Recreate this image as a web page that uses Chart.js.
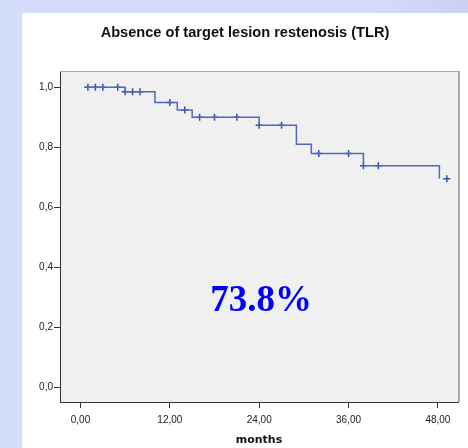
<!DOCTYPE html>
<html>
<head>
<meta charset="utf-8">
<script src="https://cdn.jsdelivr.net/npm/chart.js@4.4.0/dist/chart.umd.min.js"></script>
<style>
  html, body { margin: 0; padding: 0; }
  body {
    width: 468px; height: 448px; overflow: hidden; position: relative;
    background: linear-gradient(to right, #d4dcfb 0%, #d4dcfb 80%, #c9d1f3 100%);
  }
  #panel { position: absolute; left: 22px; top: 13px; width: 446px; height: 435px; background: #fff; }
  #kmChart { position: absolute; left: 0; top: 0; }
  #titulo {
    position: absolute; left: 22px; top: 23px; width: 446px; text-align: center;
    font-family: "Liberation Sans", Arial, sans-serif; font-weight: bold;
    font-size: 14.6px; color: #111; line-height: 18px;
  }
  #pct {
    position: absolute; left: 161px; top: 275px; width: 200px; text-align: center;
    font-family: "Liberation Serif", "Times New Roman", serif; font-weight: bold;
    font-size: 37px; color: #0000ff; line-height: 48px;
  }
</style>
</head>
<body>
<div id="panel"><canvas id="kmChart" width="446" height="435"></canvas></div>
<div id="titulo">Absence of target lesion restenosis (TLR)</div>
<div id="pct">73.8%</div>
<script>
// curva Kaplan-Meier (meses, supervivencia libre de TLR)
var curveMonths = [0.5, 6, 10, 13, 15, 24, 29, 31, 38, 48.2];
var curveSurvival = [1.0, 0.985, 0.949, 0.924, 0.900, 0.873, 0.810, 0.779, 0.738, 0.695];

// casos censurados
var censorMonths = [1, 2, 3, 5, 6, 7, 8, 12, 14, 16, 18, 21, 24, 27, 32, 36, 38, 40, 49.2];
var censorSurvival = [1, 1, 1, 1, 0.985, 0.985, 0.985, 0.949, 0.924, 0.900, 0.900, 0.900, 0.873, 0.873, 0.779, 0.779, 0.738, 0.738, 0.695];

var xTicks = [0, 12, 24, 36, 48];
var yTicks = [0, 0.2, 0.4, 0.6, 0.8, 1.0];

function toPoints(xs, ys) {
    var pts = [];
    for (var i = 0; i < xs.length; i++) {
        pts.push({ x: xs[i], y: ys[i] });
    }
    return pts;
}

// fondo gris del area y marco superior/derecho
var plotFrame = {
    id: 'plotFrame',
    beforeDraw: function (chart) {
        var a = chart.chartArea, ctx = chart.ctx;
        ctx.save();
        ctx.fillStyle = '#f0f0f0';
        ctx.fillRect(a.left, a.top, a.right - a.left, a.bottom - a.top);
        ctx.restore();
    },
    afterDraw: function (chart) {
        var a = chart.chartArea, ctx = chart.ctx;
        ctx.save();
        ctx.strokeStyle = '#a8a8a8';
        ctx.lineWidth = 1;
        ctx.beginPath();
        ctx.moveTo(a.left, a.top + 0.5);
        ctx.lineTo(a.right, a.top + 0.5);
        ctx.stroke();
        ctx.lineWidth = 2;
        ctx.beginPath();
        ctx.moveTo(a.right + 1, a.top);
        ctx.lineTo(a.right + 1, a.bottom);
        ctx.stroke();
        ctx.restore();
    }
};

var kmChart = new Chart(document.getElementById('kmChart').getContext('2d'), {
    type: 'line',
    data: {
        datasets: [
            {
                label: 'Supervivencia',
                data: toPoints(curveMonths, curveSurvival),
                stepped: 'before',
                borderColor: '#5068c0',
                borderWidth: 1.5,
                pointRadius: 0,
                fill: false
            },
            {
                label: 'Censurado',
                data: toPoints(censorMonths, censorSurvival),
                showLine: false,
                pointStyle: 'cross',
                pointRadius: 3.5,
                pointBorderWidth: 1.5,
                borderColor: '#3550ad',
                pointBorderColor: '#3550ad'
            }
        ]
    },
    options: {
        responsive: false,
        animation: false,
        layout: { padding: { left: 0, right: 10, top: 58, bottom: 0 } },
        plugins: {
            legend: { display: false },
            tooltip: { enabled: false },
            title: { display: false }
        },
        scales: {
            x: {
                type: 'linear',
                min: -2.75,
                max: 50.7,
                afterBuildTicks: function (scale) {
                    scale.ticks = xTicks.map(function (v) { return { value: v }; });
                },
                afterFit: function (scale) { scale.height = 46; },
                ticks: {
                    color: '#222',
                    padding: 6,
                    font: { family: 'Liberation Sans, Arial, sans-serif', size: 10 },
                    callback: function (v) { return v.toFixed(2).replace('.', ','); }
                },
                grid: { drawOnChartArea: false, drawTicks: true, tickLength: 6, color: '#333' },
                border: { display: true, color: '#333', width: 1 },
                title: {
                    display: true,
                    text: 'months',
                    color: '#111',
                    font: { family: 'DejaVu Sans, sans-serif', size: 11, weight: 'bold' },
                    padding: { top: 0, bottom: 1 }
                }
            },
            y: {
                type: 'linear',
                min: -0.05,
                max: 1.054,
                afterBuildTicks: function (scale) {
                    scale.ticks = yTicks.map(function (v) { return { value: v }; });
                },
                afterFit: function (scale) { scale.width = 38; },
                ticks: {
                    color: '#222',
                    padding: 1,
                    font: { family: 'Liberation Sans, Arial, sans-serif', size: 10 },
                    callback: function (v) { return v.toFixed(1).replace('.', ','); }
                },
                grid: { drawOnChartArea: false, drawTicks: true, tickLength: 6, color: '#333' },
                border: { display: true, color: '#333', width: 1 }
            }
        }
    },
    plugins: [plotFrame]
});
</script>
</body>
</html>
